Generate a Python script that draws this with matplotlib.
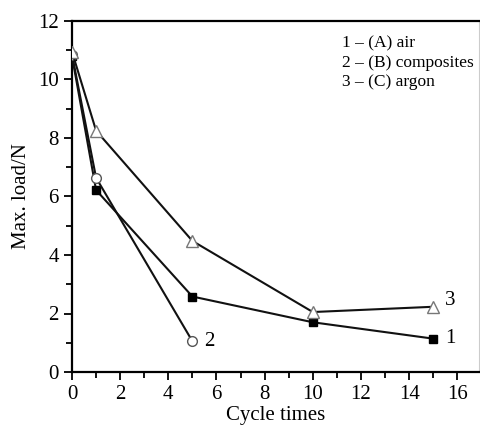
"""Max. load against cycle times for the three sample groups."""
import matplotlib
matplotlib.use("Agg")
from matplotlib import pyplot as plt, rcParams
from matplotlib.ticker import MultipleLocator

rcParams['font.family'] = 'serif'
rcParams['font.serif'] = ['Liberation Serif', 'DejaVu Serif']

# Series 1 - (A) air
cycles_air = [0, 1, 5, 10, 15]
load_air = [10.8, 6.22, 2.58, 1.70, 1.14]
# Series 2 - (B) composites
cycles_comp = [0, 1, 5]
load_comp = [10.85, 6.64, 1.05]
# Series 3 - (C) argon
cycles_argon = [0, 1, 5, 10, 15]
load_argon = [10.95, 8.25, 4.48, 2.05, 2.23]

legend_lines = ["1 \u2013 (A) air", "2 \u2013 (B) composites", "3 \u2013 (C) argon"]
XLABEL = "Cycle times"
YLABEL = "Max. load/N"

fig = plt.figure(figsize=(4.81, 4.30), dpi=100)
ax = fig.add_axes([72/481, 1 - 372/430, (479 - 72)/481, (372 - 21)/430])

ax.plot(cycles_air, load_air, '-', color='#111111', lw=1.5,
        marker='s', ms=6, mfc='black', mec='black', zorder=3)
ax.plot(cycles_comp, load_comp, '-', color='#111111', lw=1.5,
        marker='o', ms=7, mfc='white', mec='#555555', mew=1.0, zorder=4)
ax.plot(cycles_argon, load_argon, '-', color='#111111', lw=1.5,
        marker='^', ms=9, mfc='white', mec='#777777', mew=1.0, zorder=4)

# Curve numbers at the last point of each series
ax.text(cycles_air[-1] + 0.5, load_air[-1], "1", fontsize=15, va='center')
ax.text(cycles_comp[-1] + 0.5, load_comp[-1], "2", fontsize=15, va='center')
ax.text(cycles_argon[-1] + 0.5, load_argon[-1] + 0.2, "3", fontsize=15, va='center')

ax.text(0.663, 0.96, "\n".join(legend_lines), transform=ax.transAxes,
        fontsize=12.5, va='top', ha='left', linespacing=1.3)

ax.set_xlim(0, 16.9)
ax.set_ylim(0, 12)
ax.xaxis.set_major_locator(MultipleLocator(2))
ax.xaxis.set_minor_locator(MultipleLocator(1))
ax.yaxis.set_major_locator(MultipleLocator(2))
ax.yaxis.set_minor_locator(MultipleLocator(1))
ax.tick_params(which='both', direction='out', labelsize=15, width=1.3, top=False, right=False)
ax.tick_params(which='major', length=6)
ax.tick_params(which='minor', length=4)
for side in ['left', 'bottom', 'top']:
    ax.spines[side].set_linewidth(1.6)
ax.spines['right'].set_color('#cccccc')
ax.spines['right'].set_linewidth(0.8)

ax.set_xlabel(XLABEL, fontsize=15, labelpad=1)
ax.set_ylabel(YLABEL, fontsize=15, labelpad=5)

fig.savefig("out.png", dpi=100)
plt.close(fig)
